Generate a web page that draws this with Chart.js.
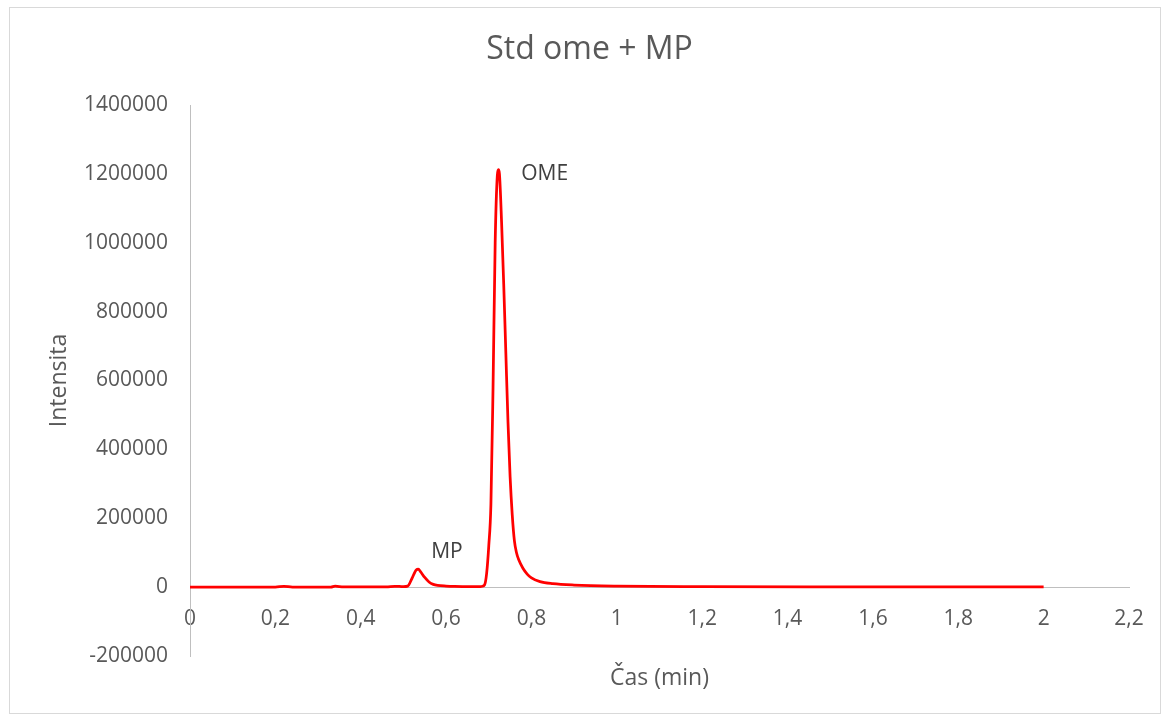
<!DOCTYPE html>
<html>
<head>
<meta charset="utf-8">
<script src="https://cdn.jsdelivr.net/npm/chart.js@4"></script>
<style>
  body { margin: 0; background: #fff; }
  #frame { position: absolute; left: 9px; top: 7px; width: 1150px; height: 705px; border: 1px solid #d9d9d9; }
  #chart { position: absolute; left: 0; top: 0; }
</style>
</head>
<body>
<div id="frame"></div>
<canvas id="chart" width="1163" height="716"></canvas>
<script>
// chromatogram: time (min) and intensity
const times = [0, 0.1, 0.2, 0.22, 0.24, 0.33, 0.34, 0.36, 0.46, 0.48, 0.5, 0.51, 0.52, 0.53, 0.535, 0.54, 0.55, 0.56, 0.57, 0.58, 0.6, 0.62, 0.66, 0.68, 0.685, 0.69, 0.695, 0.7, 0.705, 0.71, 0.715, 0.72, 0.7225, 0.725, 0.73, 0.735, 0.74, 0.745, 0.75, 0.755, 0.76, 0.765, 0.77, 0.78, 0.79, 0.8, 0.82, 0.85, 0.9, 1.0, 1.2, 1.5, 2.0];
const intensity = [0, 0, 0, 2500, 0, 0, 3000, 500, 1000, 2500, 1500, 3000, 25000, 50000, 52000, 45000, 28000, 15000, 8000, 5000, 3000, 2000, 1500, 1800, 2500, 6000, 40000, 120000, 240000, 580000, 1000000, 1195000, 1212000, 1200000, 1060000, 880000, 680000, 480000, 320000, 210000, 135000, 100000, 80000, 55000, 38000, 27000, 16000, 10000, 6000, 3000, 1500, 800, 500];

const xTicks = [0, 0.2, 0.4, 0.6, 0.8, 1, 1.2, 1.4, 1.6, 1.8, 2, 2.2];
const yTicks = [-200000, 0, 200000, 400000, 600000, 800000, 1000000, 1200000, 1400000];

const peakNames = ['OME', 'MP'];
const peakTimes = [0.776, 0.565];
const peakLevels = [1200000, 103000];

const fontFamily = "'Open Sans', 'Liberation Sans', sans-serif";
const grey = '#595959';

const points = times.map((t, i) => ({ x: t, y: intensity[i] }));

// write peak names next to their peaks
const peakLabelPlugin = {
    id: 'peakLabels',
    afterDatasetsDraw(chart) {
        const ctx = chart.ctx;
        const xs = chart.scales.x;
        const ys = chart.scales.y;
        ctx.save();
        ctx.font = '21px ' + fontFamily;
        ctx.fillStyle = '#404040';
        ctx.textAlign = 'left';
        ctx.textBaseline = 'middle';
        peakNames.forEach((name, i) => {
            ctx.fillText(name, xs.getPixelForValue(peakTimes[i]), ys.getPixelForValue(peakLevels[i]));
        });
        ctx.restore();
    }
};

new Chart(document.getElementById('chart'), {
    type: 'line',
    data: {
        datasets: [{
            data: points,
            borderColor: '#ff0000',
            borderWidth: 2.75,
            pointRadius: 0,
            cubicInterpolationMode: 'monotone',
            fill: false
        }]
    },
    options: {
        responsive: false,
        animation: false,
        layout: { padding: { top: 10, left: 50, right: 34, bottom: 24 } },
        plugins: {
            legend: { display: false },
            tooltip: { enabled: false },
            title: {
                display: true,
                text: 'Std ome + MP',
                color: grey,
                font: { family: fontFamily, size: 32, weight: 'normal', lineHeight: 1.2 },
                padding: { top: 21, bottom: 35.6 }
            },
            subtitle: {
                display: true,
                position: 'bottom',
                fullSize: false,
                text: 'Čas (min)',
                color: grey,
                font: { family: fontFamily, size: 23, weight: 'normal', lineHeight: 1.2 },
                padding: { top: 8.4, bottom: 0 }
            }
        },
        scales: {
            x: {
                type: 'linear',
                position: { y: 0 },
                min: 0,
                max: 2.2,
                afterBuildTicks: scale => { scale.ticks = xTicks.map(v => ({ value: v })); },
                ticks: {
                    color: grey,
                    padding: 19,
                    font: { family: fontFamily, size: 21 },
                    maxRotation: 0,
                    autoSkip: false,
                    callback: v => String(Number(v.toFixed(1))).replace('.', ',')
                },
                grid: { drawOnChartArea: false, drawTicks: false },
                border: { color: '#bfbfbf', width: 1 }
            },
            y: {
                min: -200000,
                max: 1400000,
                afterBuildTicks: scale => { scale.ticks = yTicks.map(v => ({ value: v })); },
                afterFit: scale => { scale.width = 140; },
                ticks: {
                    color: grey,
                    padding: 22,
                    font: { family: fontFamily, size: 21 },
                    autoSkip: false,
                    callback: v => String(v)
                },
                grid: { drawOnChartArea: false, drawTicks: false },
                border: { color: '#bfbfbf', width: 1 },
                title: {
                    display: true,
                    text: 'Intensita',
                    color: grey,
                    font: { family: fontFamily, size: 23, lineHeight: 0.6 },
                    padding: { top: 3, bottom: 0 }
                }
            }
        }
    },
    plugins: [peakLabelPlugin]
});
</script>
</body>
</html>
